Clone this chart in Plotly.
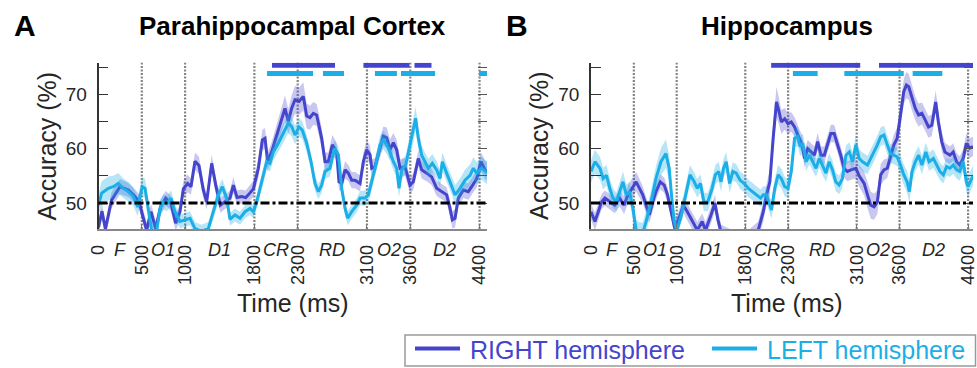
import plotly.graph_objects as go

# ---------------- data ----------------
EVENT_TIMES = [0, 500, 1000, 1800, 2300, 3100, 3600, 4400]
EVENT_TICKTEXT = ["0", "500", "1000", "1800", "2300", "3100", "3600", "4400"]
PHASE_LABELS = ["F", "O1", "D1", "CR", "RD", "O2", "D2"]
CHANCE = 50

A_RIGHT_T = [0, 40, 80, 150, 248, 344, 422, 468, 518, 556, 606, 660, 718, 776, 837, 891, 941, 980, 1030, 1068,
             1114, 1160, 1210, 1249, 1307, 1357, 1407, 1461, 1518, 1557, 1600, 1653, 1700, 1730, 1788, 1846, 1892,
             1923, 1953, 1999, 2057, 2115, 2153, 2192, 2230, 2269, 2315, 2365, 2404, 2442, 2481, 2519, 2577, 2616,
             2654, 2701, 2750, 2777, 2808, 2847, 2885, 2924, 2962, 3020, 3058, 3097, 3135, 3155, 3193, 3240, 3289,
             3328, 3366, 3405, 3443, 3482, 3539, 3597, 3635, 3693, 3732, 3790, 3847, 3905, 3963, 4020, 4059, 4086,
             4117, 4155, 4213, 4270, 4309, 4367, 4417, 4463, 4490]
A_RIGHT_V = [45.5, 48.5, 45.2, 50.5, 53.0, 52.4, 51.2, 50.2, 47.2, 45.0, 48.4, 45.3, 49.3, 50.9, 49.9, 46.3, 48.4,
             52.6, 53.6, 53.0, 57.7, 56.9, 52.4, 50.2, 57.3, 53.0, 49.6, 50.2, 50.9, 53.3, 51.0, 51.2, 51.0, 51.5,
             52.6, 56.4, 61.6, 61.9, 57.6, 59.4, 62.5, 65.3, 67.4, 65.0, 67.4, 69.0, 68.7, 69.6, 66.0, 65.7, 66.5,
             66.2, 61.9, 57.6, 57.6, 60.7, 59.4, 53.9, 53.6, 56.1, 55.5, 54.2, 54.2, 53.6, 57.6, 59.8, 58.9, 56.4,
             56.7, 59.5, 62.3, 62.0, 59.8, 61.1, 59.8, 56.4, 56.7, 53.3, 53.9, 58.2, 56.1, 55.5, 54.8, 52.7, 52.1,
             51.5, 49.0, 46.9, 47.2, 50.9, 52.4, 52.1, 53.0, 54.5, 57.6, 56.1, 55.8]
A_RIGHT_SEM = [1.3, 1.4, 1.4, 1.5, 1.4, 1.3, 1.3, 1.4, 1.5, 1.4, 1.4, 1.5, 1.4, 1.3, 1.4, 1.5, 1.4, 1.5, 1.6, 1.5,
               1.6, 1.6, 1.5, 1.4, 1.6, 1.5, 1.4, 1.3, 1.4, 1.5,
               1.3, 1.3, 1.3, 1.4, 1.5, 1.7, 1.9, 1.9, 1.7, 1.8,
               2.0, 2.2, 2.4, 2.3, 2.4, 2.6, 2.5, 2.6, 2.3, 2.2, 2.1, 2.0, 1.9, 1.7, 1.7, 1.8, 1.7,
               1.5, 1.5, 1.6, 1.5, 1.5, 1.5, 1.5, 1.6, 1.7, 1.7, 1.6, 1.6, 1.6, 1.8, 1.9, 1.9, 1.8, 1.8, 1.7, 1.6,
               1.6, 1.5, 1.5, 1.6, 1.5, 1.5, 1.4, 1.4, 1.4, 1.5, 1.6, 1.7, 1.6, 1.5, 1.5, 1.5, 1.6, 1.7, 1.7, 1.7]

A_LEFT_T = [0, 36, 114, 171, 229, 287, 344, 402, 452, 506, 537, 575, 614, 672, 710, 749, 787, 837, 883, 941, 999,
            1057, 1114, 1191, 1268, 1326, 1384, 1430, 1480, 1518, 1576, 1634, 1692, 1750, 1788, 1827, 1884, 1942,
            1980, 2019, 2076, 2134, 2192, 2230, 2269, 2315, 2353, 2404, 2454, 2500, 2539, 2577, 2616, 2673, 2723,
            2770, 2808, 2847, 2877, 2924, 2981, 3020, 3078, 3116, 3155, 3193, 3251, 3289, 3328, 3366, 3405, 3443,
            3470, 3501, 3547, 3597, 3635, 3662, 3693, 3732, 3770, 3809, 3855, 3905, 3944, 3970, 4020, 4078, 4117,
            4174, 4232, 4290, 4328, 4367, 4424, 4490]
A_LEFT_V = [49.6, 51.8, 52.7, 53.0, 53.6, 52.7, 52.1, 51.2, 49.3, 53.0, 52.7, 48.4, 45.0, 44.8, 49.0, 50.2, 49.9,
            50.9, 48.4, 46.6, 46.9, 47.2, 45.3, 44.8, 45.3, 48.4, 51.5, 53.0, 50.9, 47.0, 47.8, 47.2, 48.4, 49.0,
            48.4, 50.2, 53.9, 57.6, 57.3, 59.4, 61.0, 62.8, 64.7, 64.1, 62.5, 64.0, 63.4, 61.0, 57.6, 53.6, 52.1,
            53.3, 55.8, 56.4, 60.0, 58.9, 52.7, 49.0, 47.2, 48.4, 49.6, 50.9, 50.9, 51.5, 53.9, 56.4, 60.7, 61.6,
            60.7, 59.4, 57.6, 56.4, 52.7, 56.1, 57.0, 60.7, 63.1, 65.6, 61.9, 58.8, 57.6, 56.4, 57.3, 56.1, 54.5,
            57.6, 55.5, 53.3, 51.5, 52.7, 54.2, 55.1, 56.4, 55.5, 56.4, 55.5]
A_LEFT_SEM = [2.0, 2.2, 2.2, 2.0, 1.9, 1.8, 1.8, 1.7, 1.7, 1.8, 1.8, 1.7, 1.6, 1.5, 1.5, 1.4, 1.4, 1.4, 1.3, 1.3,
              1.3, 1.3, 1.2, 1.2, 1.2, 1.3, 1.4, 1.4, 1.3, 1.2,
              1.2, 1.2, 1.2, 1.2, 1.2, 1.3, 1.4, 1.5, 1.5, 1.6, 1.6, 1.7, 1.8, 1.8, 1.7, 1.7, 1.6, 1.6, 1.5, 1.4,
              1.4, 1.4, 1.4, 1.5, 1.5, 1.5, 1.4, 1.4, 1.3, 1.3,
              1.3, 1.3, 1.4, 1.4, 1.5, 1.6, 1.7, 1.7, 1.7, 1.6, 1.6, 1.6, 1.7, 1.7, 1.8, 1.9, 2.0, 2.1, 1.9, 1.8,
              1.7, 1.7, 1.7, 1.6, 1.6, 1.7, 1.7, 1.7, 1.8, 1.8, 1.9, 2.0, 2.0, 2.0, 2.1, 2.1]

B_RIGHT_T = [0, 46, 85, 123, 162, 219, 277, 335, 385, 431, 489, 527, 566, 604, 643, 681, 720, 758, 808, 854, 893,
             939, 977, 1027, 1078, 1124, 1182, 1240, 1297, 1336, 1394, 1446, 1480, 1520, 1650, 1800, 1951, 2010,
             2048, 2087, 2125, 2164, 2194, 2221, 2260, 2298, 2337, 2375, 2414, 2464, 2491, 2529, 2568, 2606, 2645,
             2683, 2722, 2760, 2798, 2837, 2875, 2914, 2952, 2991, 3033, 3091, 3129, 3187, 3226, 3264, 3303, 3341,
             3380, 3418, 3457, 3495, 3534, 3572, 3591, 3622, 3649, 3680, 3707, 3745, 3784, 3822, 3861, 3899, 3938,
             3976, 4022, 4053, 4092, 4130, 4188, 4226, 4265, 4303, 4342, 4380, 4418, 4457]
B_RIGHT_V = [48.4, 46.6, 48.4, 50.2, 50.9, 50.2, 49.6, 50.9, 49.6, 51.5, 53.0, 53.9, 52.7, 51.5, 49.6, 47.8, 50.2,
             52.1, 53.9, 53.3, 51.5, 48.4, 45.3, 47.2, 49.6, 48.4, 46.6, 45.0, 46.6, 45.0, 47.5, 50.0, 47.0, 44.5,
             43.5, 43.0, 45.0, 48.4, 51.5, 53.9, 61.9, 68.6, 66.8, 64.9, 65.5, 64.6, 64.9, 64.0, 62.5, 60.7, 58.2,
             60.0, 59.4, 58.8, 61.3, 58.8, 58.8, 61.0, 62.8, 62.8, 61.0, 58.8, 56.4, 55.8, 56.1, 56.4, 55.0, 53.6,
             51.5, 49.6, 49.3, 50.2, 55.2, 56.1, 56.4, 58.8, 60.7, 61.9, 63.7, 67.4, 70.5, 71.7, 71.4, 69.3, 67.4,
             66.2, 66.5, 65.3, 64.0, 64.3, 68.6, 64.9, 61.3, 59.4, 58.8, 59.4, 57.6, 57.0, 58.2, 61.0, 60.1, 60.4]
B_RIGHT_SEM = [1.5, 1.6, 1.5, 1.4, 1.4, 1.4, 1.5, 1.5, 1.6, 1.7, 1.8, 1.8, 1.7, 1.6, 1.5, 1.5, 1.5, 1.5, 1.4, 1.4,
               1.4, 1.4, 1.4, 1.5, 1.5, 1.5, 1.5, 1.5, 1.5, 1.5, 1.5, 1.5, 1.5, 1.5, 1.5, 1.5,
               1.6, 1.8, 2.0, 2.3, 2.6, 2.8, 2.4, 2.2, 2.0, 1.9, 1.8, 1.8, 1.7, 1.7, 1.6, 1.6, 1.6, 1.6, 1.6, 1.6,
               1.6, 1.6, 1.6, 1.6, 1.6, 1.6, 1.7, 1.8, 1.8, 1.9,
               2.0, 2.2, 2.4, 2.5, 2.4, 2.2, 2.0, 1.9, 1.8, 1.8, 1.9, 2.0, 2.1, 2.2, 2.3, 2.4, 2.4, 2.3, 2.2, 2.1,
               2.0, 2.0, 2.0, 2.0, 2.1, 1.9, 1.8, 1.7, 1.6, 1.6, 1.6, 1.6, 1.7, 1.8, 1.8, 1.8]

B_LEFT_T = [0, 46, 104, 142, 181, 219, 258, 296, 335, 373, 412, 450, 489, 508, 527, 566, 604, 643, 700, 758, 816,
            874, 912, 939, 970, 1001, 1047, 1105, 1155, 1201, 1240, 1278, 1317, 1363, 1413, 1451, 1490, 1517, 1547,
            1578, 1617, 1655, 1694, 1740, 1786, 1836, 1886, 1932, 1979, 2010, 2048, 2106, 2144, 2183, 2221, 2260,
            2298, 2337, 2375, 2414, 2440, 2471, 2510, 2548, 2587, 2625, 2664, 2702, 2741, 2779, 2818, 2856, 2895,
            2933, 2975, 3014, 3052, 3091, 3129, 3168, 3226, 3264, 3303, 3341, 3380, 3418, 3457, 3495, 3534, 3572,
            3611, 3649, 3688, 3715, 3745, 3784, 3822, 3861, 3907, 3945, 3995, 4034, 4072, 4111, 4149, 4188, 4226,
            4265, 4303, 4342, 4380, 4399, 4438, 4457]
B_LEFT_V = [55.8, 57.6, 56.4, 54.5, 55.1, 52.7, 50.9, 50.2, 52.1, 53.9, 51.5, 52.1, 49.0, 46.6, 45.0, 44.5, 44.5,
            46.6, 50.2, 54.5, 57.6, 59.1, 56.4, 51.5, 46.6, 45.0, 47.2, 51.5, 55.2, 54.0, 52.7, 53.6, 50.2, 50.2,
            52.7, 55.2, 55.8, 53.9, 56.4, 57.6, 53.6, 55.8, 55.5, 54.2, 53.6, 52.7, 52.1, 51.5, 50.9, 51.5, 51.5,
            48.7, 52.7, 55.2, 54.5, 53.0, 52.7, 55.8, 61.9, 62.2, 60.4, 61.0, 57.6, 58.8, 57.6, 56.4, 58.2, 56.7,
            55.5, 57.6, 56.1, 53.9, 53.3, 54.5, 58.8, 59.4, 57.6, 60.7, 58.2, 57.6, 57.0, 58.2, 59.4, 60.7, 62.2,
            62.5, 60.7, 59.1, 58.8, 58.5, 57.0, 55.2, 53.9, 52.1, 55.8, 57.6, 58.8, 57.0, 59.4, 57.6, 58.2, 57.0,
            55.8, 55.2, 56.7, 56.4, 57.0, 56.1, 55.8, 57.6, 53.9, 53.0, 54.5, 55.0]
B_LEFT_SEM = [2.0, 2.2, 2.1, 2.0, 1.9, 1.8, 1.8, 1.7, 1.8, 1.9, 1.9, 1.9, 1.9, 1.9, 1.9, 1.9, 1.9, 2.0, 2.1, 2.3,
              2.5, 2.6, 2.4, 2.2, 2.0, 2.0, 1.9, 1.8, 1.8, 1.7, 1.7, 1.7, 1.7, 1.7, 1.8, 1.8, 1.8,
              1.8, 1.8, 1.8, 1.7, 1.7, 1.7, 1.6, 1.6, 1.6, 1.6, 1.6, 1.6, 1.6, 1.6, 1.6, 1.7, 1.8, 1.8, 1.8, 1.7,
              1.7, 1.7, 1.8, 1.8, 1.8, 1.7, 1.7, 1.6, 1.6, 1.6, 1.6, 1.6, 1.6, 1.7, 1.7, 1.7, 1.7,
              1.8, 1.8, 1.8, 1.8, 1.7, 1.7, 1.7, 1.7, 1.7, 1.7, 1.7, 1.7, 1.7, 1.7, 1.7, 1.7, 1.8, 1.9, 2.0, 2.0,
              1.9, 1.8, 1.7, 1.7, 1.7, 1.7, 1.7, 1.7, 1.6, 1.6, 1.6, 1.6, 1.6, 1.6, 1.7, 1.8, 1.9, 1.9, 1.9, 1.9]

# significance bars (start, end in ms)
A_RIGHT_SIG_START = [2003, 3059, 3649]
A_RIGHT_SIG_END = [2731, 3591, 3845]
A_LEFT_SIG_START = [1946, 2592, 3192, 3493, 4394]
A_LEFT_SIG_END = [2477, 2835, 3446, 3886, 4490]
B_RIGHT_SIG_START = [2102, 3360]
B_RIGHT_SIG_END = [3141, 4457]
B_LEFT_SIG_START = [2356, 2956, 3753]
B_LEFT_SIG_END = [2644, 3649, 4099]

SERIES_NAMES = ["RIGHT hemisphere", "LEFT hemisphere"]
PANEL_TITLES = ["Parahippocampal Cortex", "Hippocampus"]
PANEL_LETTERS = ["A", "B"]

for t, v, s in [(A_RIGHT_T, A_RIGHT_V, A_RIGHT_SEM), (A_LEFT_T, A_LEFT_V, A_LEFT_SEM),
                (B_RIGHT_T, B_RIGHT_V, B_RIGHT_SEM), (B_LEFT_T, B_LEFT_V, B_LEFT_SEM)]:
    assert len(t) == len(v) == len(s), (len(t), len(v), len(s))

# ---------------- style ----------------
W, H = 977, 368
DARK = "rgb(68,68,204)"
DARK_BAND = "rgba(68,68,204,0.30)"
LIGHT = "rgb(28,174,230)"
LIGHT_BAND = "rgba(28,174,230,0.32)"
TXT = "#262626"
FONT = "Liberation Sans, Arial, sans-serif"
BAR_LEVEL_RIGHT = 75.35
BAR_LEVEL_LEFT = 73.85
Y_RANGE = [45.2, 75.8]

PLOT_TOP, PLOT_BOT = 62.8, 229.1
A_LEFT_PX, A_RIGHT_PX = 98.5, 487.0
B_LEFT_PX, B_RIGHT_PX = 591.0, 973.0
A_X_MAX = 4486
B_X_MAX = 4457


def fx(px):
    return px / W


def fy(py):
    return 1 - py / H


fig = go.Figure()


def add_series(t, v, s, color, band, xa, ya):
    upper = [a + b for a, b in zip(v, s)]
    lower = [a - b for a, b in zip(v, s)]
    fig.add_trace(go.Scatter(x=list(t) + list(t)[::-1], y=upper + lower[::-1], fill="toself",
                             fillcolor=band, line=dict(width=0), mode="lines", hoverinfo="skip",
                             showlegend=False, xaxis=xa, yaxis=ya))
    fig.add_trace(go.Scatter(x=t, y=v, mode="lines", line=dict(color=color, width=3),
                             showlegend=False, xaxis=xa, yaxis=ya))


def add_bars(starts, ends, level, color, xa, ya):
    xs, ys = [], []
    for a, b in zip(starts, ends):
        xs += [a, b, None]
        ys += [level, level, None]
    fig.add_trace(go.Scatter(x=xs, y=ys, mode="lines", line=dict(color=color, width=5),
                             hoverinfo="skip", showlegend=False, xaxis=xa, yaxis=ya))


add_series(A_RIGHT_T, A_RIGHT_V, A_RIGHT_SEM, DARK, DARK_BAND, "x", "y")
add_series(A_LEFT_T, A_LEFT_V, A_LEFT_SEM, LIGHT, LIGHT_BAND, "x", "y")
add_series(B_RIGHT_T, B_RIGHT_V, B_RIGHT_SEM, DARK, DARK_BAND, "x2", "y2")
add_series(B_LEFT_T, B_LEFT_V, B_LEFT_SEM, LIGHT, LIGHT_BAND, "x2", "y2")
add_bars(A_RIGHT_SIG_START, A_RIGHT_SIG_END, BAR_LEVEL_RIGHT, DARK, "x", "y")
add_bars(A_LEFT_SIG_START, A_LEFT_SIG_END, BAR_LEVEL_LEFT, LIGHT, "x", "y")
add_bars(B_RIGHT_SIG_START, B_RIGHT_SIG_END, BAR_LEVEL_RIGHT, DARK, "x2", "y2")
add_bars(B_LEFT_SIG_START, B_LEFT_SIG_END, BAR_LEVEL_LEFT, LIGHT, "x2", "y2")
# dummy traces to activate right-hand tick axes
fig.add_trace(go.Scatter(x=[None], y=[None], xaxis="x", yaxis="y3", showlegend=False, hoverinfo="skip"))
fig.add_trace(go.Scatter(x=[None], y=[None], xaxis="x2", yaxis="y4", showlegend=False, hoverinfo="skip"))

y_tickvals = [50, 55, 60, 65, 70, 75]
y_ticktext = ["50", "", "60", "", "70", ""]

xcommon = dict(tickmode="array", tickvals=EVENT_TIMES, ticktext=EVENT_TICKTEXT, tickangle=-90,
               tickfont=dict(size=18, color=TXT, family=FONT), ticks="inside", ticklen=5, tickcolor="#777",
               showline=True, linecolor="#888", linewidth=1.5, showgrid=False, zeroline=False,
               ticklabelstandoff=7, ticklabeloverflow="allow", automargin=False, fixedrange=True)
ycommon = dict(range=Y_RANGE, tickmode="array", tickvals=y_tickvals, ticktext=y_ticktext,
               tickfont=dict(size=19, color=TXT, family=FONT), ticks="inside", ticklen=10, tickcolor="#333",
               showline=True, linecolor="#333", linewidth=1.5, showgrid=False, zeroline=False,
               ticklabelstandoff=6, automargin=False, fixedrange=True)
yright = dict(range=Y_RANGE, tickmode="array", tickvals=y_tickvals, showticklabels=False, ticks="inside",
              ticklen=9, tickcolor="#555", showline=False, showgrid=False, zeroline=False, side="right",
              automargin=False, fixedrange=True)

ydom = [fy(PLOT_BOT), fy(PLOT_TOP)]
fig.update_layout(
    width=W, height=H, autosize=False,
    margin=dict(l=0, r=0, t=0, b=0, pad=0),
    paper_bgcolor="white", plot_bgcolor="white",
    showlegend=False,
    xaxis=dict(domain=[fx(A_LEFT_PX), fx(A_RIGHT_PX)], range=[0, A_X_MAX], anchor="y", **xcommon),
    xaxis2=dict(domain=[fx(B_LEFT_PX), fx(B_RIGHT_PX)], range=[0, B_X_MAX], anchor="y2", **xcommon),
    yaxis=dict(domain=ydom, anchor="x", **ycommon),
    yaxis2=dict(domain=ydom, anchor="x2", **ycommon),
    yaxis3=dict(overlaying="y", anchor="x", **yright),
    yaxis4=dict(overlaying="y2", anchor="x2", **yright),
)

shapes = []
annotations = []
panels = [("x", "y", (A_LEFT_PX + A_RIGHT_PX) / 2, 24.5, A_LEFT_PX),
          ("x2", "y2", 786.5, 516.5, B_LEFT_PX)]
for i, (xa, ya, cx, letter_x, left_px) in enumerate(panels):
    for et in EVENT_TIMES[1:]:
        shapes.append(dict(type="line", xref=xa, yref=f"{ya} domain", x0=et, x1=et, y0=0, y1=1,
                           line=dict(color="#858585", width=2.2, dash="2px,1.5px"), layer="below"))
    shapes.append(dict(type="line", xref=f"{xa} domain", yref=ya, x0=0, x1=1, y0=CHANCE, y1=CHANCE,
                       line=dict(color="black", width=3, dash="9px,3px,3px,3px"), layer="above"))
    for k, lab in enumerate(PHASE_LABELS):
        mid = (EVENT_TIMES[k] + EVENT_TIMES[k + 1]) / 2
        annotations.append(dict(text=f"<i>{lab}</i>", x=mid, xref=xa, y=fy(250), yref="paper",
                                showarrow=False, xanchor="center", yanchor="middle",
                                font=dict(size=18, color=TXT, family=FONT)))
    annotations.append(dict(text="Time (ms)", x=fx(cx), y=fy(303), xref="paper", yref="paper",
                            showarrow=False, xanchor="center", yanchor="middle",
                            font=dict(size=25, color=TXT, family=FONT)))
    annotations.append(dict(text="Accuracy (%)", x=fx(left_px - 52), y=fy(146), xref="paper", yref="paper",
                            showarrow=False, xanchor="center", yanchor="middle", textangle=-90,
                            font=dict(size=25, color=TXT, family=FONT)))
    annotations.append(dict(text=f"<b>{PANEL_TITLES[i]}</b>", x=fx(cx), y=fy(26), xref="paper", yref="paper",
                            showarrow=False, xanchor="center", yanchor="middle",
                            font=dict(size=26, color="black", family=FONT)))
    annotations.append(dict(text=f"<b>{PANEL_LETTERS[i]}</b>", x=fx(letter_x), y=fy(26), xref="paper",
                            yref="paper", showarrow=False, xanchor="center", yanchor="middle",
                            font=dict(size=30, color="black", family=FONT)))

# legend box (manual)
shapes.append(dict(type="rect", xref="paper", yref="paper", x0=fx(405), x1=fx(975.5), y0=fy(366), y1=fy(335),
                   line=dict(color="#9a9a9a", width=1.5), fillcolor="white", layer="above"))
for (x0, x1, tx, name, col) in [(415, 460, 468, SERIES_NAMES[0], DARK), (712, 757, 765, SERIES_NAMES[1], LIGHT)]:
    shapes.append(dict(type="line", xref="paper", yref="paper", x0=fx(x0), x1=fx(x1), y0=fy(348.5), y1=fy(348.5),
                       line=dict(color=col, width=4), layer="above"))
    annotations.append(dict(text=name, x=fx(tx), y=fy(350), xref="paper", yref="paper", showarrow=False,
                            xanchor="left", yanchor="middle", font=dict(size=25, color=col, family=FONT)))

fig.update_layout(shapes=shapes, annotations=annotations)
fig.write_html("out.html")
